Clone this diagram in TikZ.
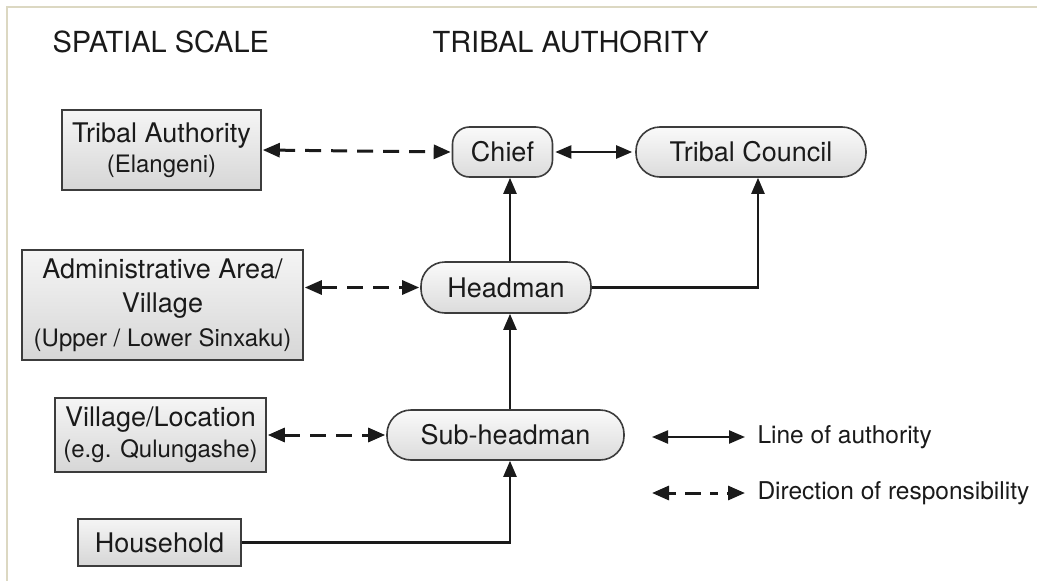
\documentclass[tikz,border=0pt]{standalone}
\usepackage{fontspec}
\setmainfont{TeX Gyre Heros}
\usetikzlibrary{arrows.meta,calc}
\definecolor{frameline}{HTML}{DCD8C2}
\definecolor{edge}{HTML}{3C3C3C}
\definecolor{ink}{HTML}{1A1A1A}
\newcommand{\subline}[1]{{\fontsize{24}{33}\selectfont #1}}
\tikzset{
  body/.style={font=\fontsize{27}{33}\selectfont, text=ink},
  legendtext/.style={font=\fontsize{24.5}{30}\selectfont, text=ink, anchor=west},
  scalebox/.style={body, draw=edge, line width=1.6pt, top color=black!4, bottom color=black!16,
    align=center, inner sep=0pt},
  rolebox/.style={body, draw=edge, line width=1.6pt, top color=black!2, bottom color=black!14,
    inner sep=0pt, rounded corners=24pt},
  authority/.style={draw=ink, line width=2.3pt, -{Triangle[length=16pt,width=13pt]}},
  twoway/.style={draw=ink, line width=2.3pt, {Triangle[length=16pt,width=13pt]}-{Triangle[length=16pt,width=13pt]}},
  responsibility/.style={draw=ink, line width=3pt, dash pattern=on 16pt off 10pt,
    {Triangle[length=17pt,width=14pt]}-{Triangle[length=17pt,width=14pt]}},
  heading/.style={font=\fontsize{29}{32}\selectfont, text=ink, anchor=west}
}
\begin{document}
\begin{tikzpicture}[x=1pt,y=-1pt]
\useasboundingbox (0,0) rectangle (1037,581);
\fill[white] (0,0) rectangle (1037,581);
% page frame
\draw[frameline, line width=2pt] (7,581) -- (7,7) -- (1037,7);

% column headings
\node[heading] (hscale) at (49,42) {SPATIAL SCALE};
\node[heading] (hauth) at (429,42) {TRIBAL AUTHORITY};

% spatial scale boxes
\node[scalebox, minimum width=199pt, minimum height=80pt] (ta) at (161.5,150)
  {Tribal Authority\\[-3pt]\subline{(Elangeni)}};
\node[scalebox, minimum width=281pt, minimum height=110pt] (admin) at (162.5,305)
  {Administrative Area/\\[1pt]Village\\[1pt]\subline{(Upper / Lower Sinxaku)}};
\node[scalebox, minimum width=211pt, minimum height=74pt] (village) at (160.5,435)
  {Village/Location\\[-2pt]\subline{(e.g. Qulungashe)}};
\node[scalebox, minimum width=163pt, minimum height=47pt] (house) at (159.5,542.5) {Household};

% tribal authority roles
\node[rolebox, rounded corners=17pt, minimum width=100pt, minimum height=50pt] (chief) at (502.5,152) {Chief};
\node[rolebox, minimum width=230pt, minimum height=50pt] (council) at (751,152) {Tribal Council};
\node[rolebox, minimum width=170pt, minimum height=51pt] (headman) at (506,287.5) {Headman};
\node[rolebox, minimum width=237pt, minimum height=50pt] (sub) at (505.5,435) {Sub-headman};

% reference columns for vertical links
\coordinate (colx) at (510,0);
\coordinate (tcx) at (758,0);

% responsibility links
\draw[responsibility, shorten <=1pt, shorten >=1pt] (ta.east) -- (chief.west);
\draw[responsibility, shorten <=1pt, shorten >=1pt] (admin.east |- headman.west) -- (headman.west);
\draw[responsibility, shorten <=1pt, shorten >=1pt] (village.east) -- (sub.west);

% lines of authority
\draw[twoway, shorten <=2pt, shorten >=3pt] (chief.east) -- (council.west);
\draw[authority] (headman.north -| colx) -- (chief.south -| colx);
\draw[authority] (headman.east) -| (council.south -| tcx);
\draw[authority] (sub.north -| colx) -- (headman.south -| colx);
\draw[authority] (house.east) -| (sub.south -| colx);

% legend
\coordinate (la) at (652,437);
\coordinate (lb) at (745,437);
\coordinate (ra) at (652,493);
\coordinate (rb) at (745,493);
\draw[twoway] (la) -- (lb);
\draw[responsibility, dash pattern=on 8pt off 9pt on 16pt off 9pt] (ra) -- (rb);
\node[legendtext] (lauth) at (754,437) {Line of authority};
\node[legendtext] (lresp) at (754,493) {Direction of responsibility};
\end{tikzpicture}
\end{document}
